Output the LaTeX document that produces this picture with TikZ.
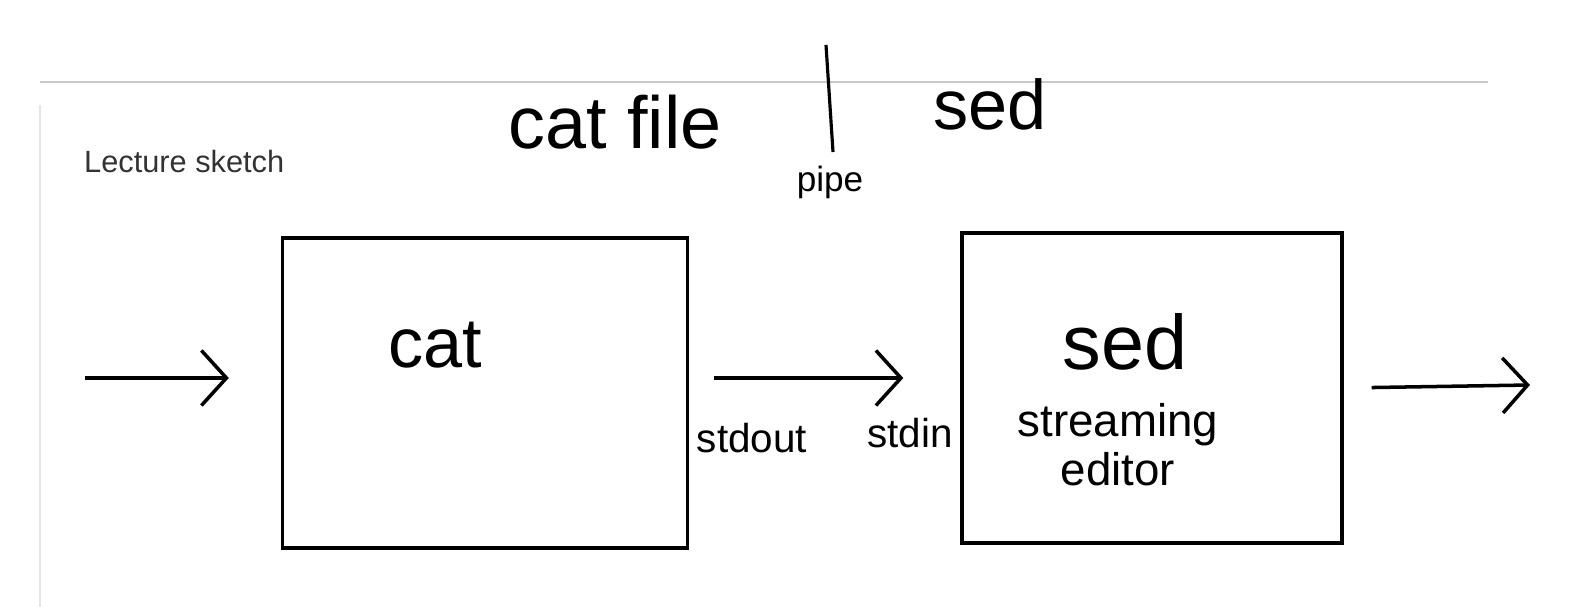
\documentclass[tikz,border=0pt]{standalone}
\usepackage{fontspec}
\setmainfont{Liberation Sans}
\usetikzlibrary{arrows.meta}

\begin{document}
\begin{tikzpicture}[x=0.02cm, y=-0.02cm,
  prog/.style={draw, line width=2pt, minimum width=8.1cm, minimum height=6.2cm},
  hand/.style={font=\fontsize{42}{46}\selectfont, inner sep=0pt},
  lab/.style={font=\fontsize{23}{26}\selectfont, inner sep=0pt, align=center},
  arr/.style={-{Straight Barb[length=5mm, width=11mm]}, line width=2pt}]
  \useasboundingbox (0,0) rectangle (1572,607);
  % page frame
  \draw[black!22, line width=1.2pt] (40,82) -- (1488,82);
  \draw[blue!4!black!10, line width=1.2pt] (40,105) -- (40,607);
  \node[anchor=west, font=\fontsize{17.5}{20}\selectfont, text=black!80] (title) at (78,162) {Lecture sketch};

  % the command line
  \node[hand] (cmdcat) at (615,122) {cat file};
  \coordinate (bartop) at (826,45);
  \coordinate (barbot) at (833,152);
  \draw[line width=1.8pt] (bartop) -- (barbot);
  \node[lab, font=\fontsize{20}{22}\selectfont] (pipe) at (830,182) {pipe};
  \node[hand, font=\fontsize{40}{44}\selectfont] (cmdsed) at (990,104) {sed};

  % the two programs
  \node[prog] (cat) at (485,393) {};
  \node[hand, font=\fontsize{40}{44}\selectfont] (catlab) at (435,345) {cat};
  \node[prog, minimum width=7.6cm, minimum height=6.2cm] (sed) at (1152,388) {};
  \node[hand, font=\fontsize{44}{48}\selectfont] (sedlab) at (1125,342) {sed};
  \node[lab, font=\fontsize{26}{28}\selectfont] (sedtxt) at (1118,445) {streaming\\editor};

  \coordinate (in) at (85,378);
  \coordinate (out) at (1530,385);
  \draw[arr, shorten >=1.04cm] (in) -- (in -| cat.west);
  \draw[arr, shorten <=0.5cm, shorten >=1.14cm] ([yshift=0.3cm]cat.east) -- ([yshift=0.2cm]sed.west);
  \draw[arr, shorten <=0.56cm] (sed.east) -- (out);
  \node[lab] (stdout) at (752,438) {stdout};
  \node[lab] (stdin) at (910,433) {stdin};
\end{tikzpicture}
\end{document}
